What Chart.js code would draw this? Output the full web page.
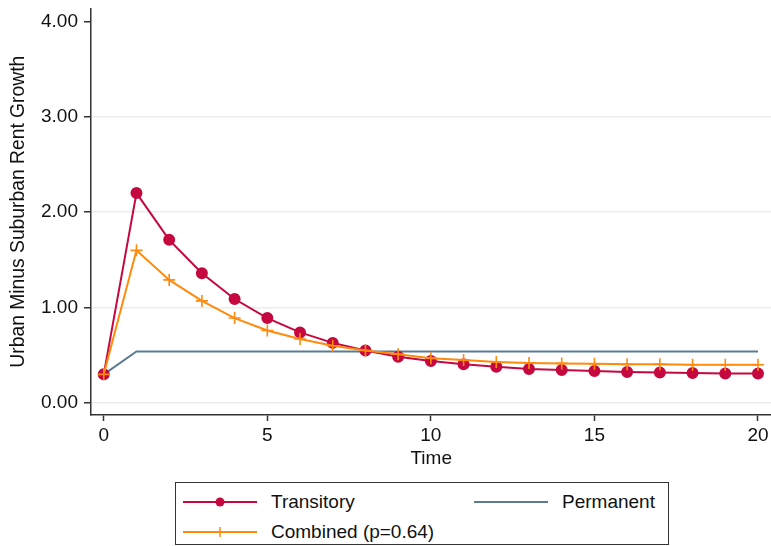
<!DOCTYPE html>
<html>
<head>
<meta charset="utf-8">
<script src="https://cdn.jsdelivr.net/npm/chart.js@4/dist/chart.umd.min.js"></script>
<style>
  body { margin: 0; background: #fff; font-family: "Liberation Sans", Arial, sans-serif; overflow: hidden; }
  #wrap { position: relative; width: 771px; height: 546px; overflow: hidden; }
  /* canvas is a bit larger than the page so the plot box reaches the top/right edges */
  #chartBox { position: absolute; left: 0; top: -9px; width: 779px; height: 479px; }
  #legend {
    position: absolute; left: 175px; top: 482px; width: 492px; height: 61px;
    border: 1px solid #333; font-size: 19px; color: #111;
  }
  .item { position: absolute; display: flex; align-items: center; height: 24px; }
  .item svg { margin-right: 13px; }
</style>
</head>
<body>
<div id="wrap">
  <div id="chartBox"><canvas id="rentChart" width="779" height="479"></canvas></div>
  <div id="legend">
    <div class="item" style="left:7px; top:7px;">
      <svg width="75" height="12"><line x1="0" y1="6" x2="74" y2="6" stroke="#c5083f" stroke-width="2"/><circle cx="37" cy="6" r="4.5" fill="#c5083f"/></svg>Transitory
    </div>
    <div class="item" style="left:298px; top:7px;">
      <svg width="75" height="12"><line x1="0" y1="6" x2="74" y2="6" stroke="#5a7b92" stroke-width="2"/></svg>Permanent
    </div>
    <div class="item" style="left:7px; top:37px;">
      <svg width="75" height="12"><line x1="0" y1="6" x2="74" y2="6" stroke="#ff8a0c" stroke-width="2"/><line x1="37" y1="1" x2="37" y2="11" stroke="#ff8a0c" stroke-width="1.5"/></svg>Combined (p=0.64)
    </div>
  </div>
</div>
<script>
// ---------- DATA ----------
const times = [0, 1, 2, 3, 4, 5, 6, 7, 8, 9, 10, 11, 12, 13, 14, 15, 16, 17, 18, 19, 20];
const transitory = [0.30, 2.20, 1.71, 1.36, 1.09, 0.89, 0.74, 0.63, 0.55, 0.485, 0.44, 0.405, 0.38, 0.355, 0.345, 0.335, 0.325, 0.32, 0.315, 0.31, 0.31];
const combined = [0.30, 1.60, 1.29, 1.07, 0.89, 0.76, 0.67, 0.60, 0.55, 0.51, 0.47, 0.45, 0.43, 0.42, 0.415, 0.41, 0.405, 0.405, 0.40, 0.40, 0.40];
const permanent = [0.30, 0.54, 0.54, 0.54, 0.54, 0.54, 0.54, 0.54, 0.54, 0.54, 0.54, 0.54, 0.54, 0.54, 0.54, 0.54, 0.54, 0.54, 0.54, 0.54, 0.54];
const xTicks = [0, 5, 10, 15, 20];
const yTicks = [0, 1, 2, 3, 4];

const font = { family: "'Liberation Sans', Arial, sans-serif", size: 19 };

function pts(vals) {
  return vals.map((v, i) => ({ x: times[i], y: v }));
}

// ---------- CHART ----------
new Chart(document.getElementById("rentChart"), {
  type: "line",
  data: {
    datasets: [
      {
        label: "Transitory",
        data: pts(transitory),
        borderColor: "#c5083f",
        backgroundColor: "#c5083f",
        borderWidth: 2,
        pointStyle: "circle",
        pointRadius: 5,
        order: 2,
      },
      {
        label: "Combined (p=0.64)",
        data: pts(combined),
        borderColor: "#ff8a0c",
        backgroundColor: "#ff8a0c",
        borderWidth: 2,
        pointStyle: "cross",
        pointRadius: 6,
        pointBorderWidth: 1.6,
        order: 1,
      },
      {
        label: "Permanent",
        data: pts(permanent),
        borderColor: "#5a7b92",
        borderWidth: 2,
        pointRadius: 0,
        order: 3,
      },
    ],
  },
  options: {
    responsive: false,
    animation: false,
    layout: { padding: 0 },
    plugins: { legend: { display: false }, tooltip: { enabled: false } },
    scales: {
      x: {
        type: "linear",
        min: -0.39,
        max: 20.41,
        afterBuildTicks: (s) => { s.ticks = xTicks.map((v) => ({ value: v })); },
        afterFit: (s) => { s.height = 55; },
        grid: { drawOnChartArea: false, tickLength: 6, tickColor: "#333", tickWidth: 1.5 },
        border: { color: "#333", width: 1.5 },
        ticks: { font: font, color: "#111", padding: 3, maxRotation: 0 },
        title: { display: true, text: "Time", font: font, color: "#111", padding: { top: 0, bottom: 0 } },
      },
      y: {
        min: -0.126,
        max: 4.136,
        afterBuildTicks: (s) => { s.ticks = yTicks.map((v) => ({ value: v })); },
        afterFit: (s) => { s.width = 91; },
        grid: {
          color: (c) => (c.tick && c.tick.value === 4 ? "rgba(0,0,0,0)" : "#ececec"),
          lineWidth: 1.5,
          tickLength: 7,
          tickColor: "#333",
          tickWidth: 1.5,
        },
        border: { color: "#333", width: 1.5 },
        ticks: { font: font, color: "#111", padding: 6, callback: (v) => v.toFixed(2) },
        title: {
          display: true,
          text: "Urban Minus Suburban Rent Growth",
          font: { family: font.family, size: 19.3 },
          color: "#111",
          padding: { top: 7, bottom: 0 },
        },
      },
    },
  },
});
</script>
</body>
</html>
